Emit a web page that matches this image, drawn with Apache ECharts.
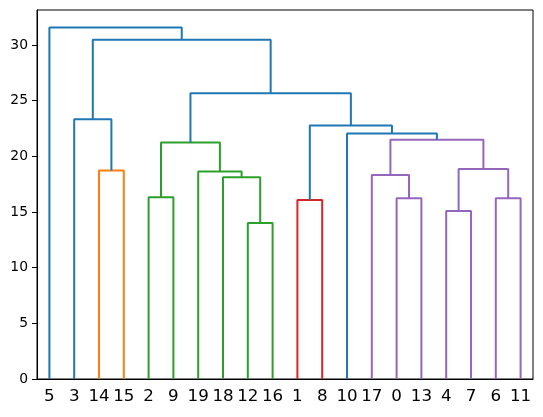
<!DOCTYPE html>
<html>
<head>
<meta charset="utf-8">
<script src="https://cdn.jsdelivr.net/npm/echarts@6/dist/echarts.min.js"></script>
<style>
  html, body { margin: 0; padding: 0; background: #fff; }
  #chart { width: 543px; height: 417px; }
</style>
</head>
<body>
<div id="chart"></div>
<script>
// leaf order along the bottom
const leaves = [5, 3, 14, 15, 2, 9, 19, 18, 12, 16, 1, 8, 10, 17, 0, 13, 4, 7, 6, 11];

// merges in linkage order; a child is a leaf id (number) or an earlier merge 'm<k>'
const mergeLeft = [12, 4, 1, 0, 6, 2, 18, 17, 19, 14, "m1", "m5", "m7", 10, "m2", 3, "m11", "m15", 5];
const mergeRight = [16, 7, 8, 13, 11, 9, "m0", "m3", "m6", 15, "m4", "m8", "m10", "m12", "m13", "m9", "m14", "m16", "m17"];
const mergeHeight = [14.02, 15.1, 16.08, 16.24, 16.24, 16.32, 18.12, 18.32, 18.65, 18.72, 18.86, 21.25, 21.5, 22.06, 22.77, 23.34, 25.67, 30.47, 31.57];
const mergeGroup = ["C2", "C4", "C3", "C4", "C4", "C2", "C2", "C4", "C2", "C1", "C4", "C2", "C4", "C0", "C0", "C0", "C0", "C0", "C0"];

const yTicks = [0, 5, 10, 15, 20, 25, 30];

const palette = { C0: "#1f77b4", C1: "#ff7f0e", C2: "#2ca02c", C3: "#d62728", C4: "#9467bd" };

let chart = echarts.init(document.getElementById("chart"));

// x position (0..200 units, leaf i at 5 + 10 i) and height of every node
const nodeX = {};
const nodeY = {};
leaves.forEach((id, i) => {
  nodeX[id] = 5 + 10 * i;
  nodeY[id] = 0;
});

const series = mergeHeight.map((h, k) => {
  const a = mergeLeft[k];
  const b = mergeRight[k];
  const key = "m" + k;
  nodeX[key] = (nodeX[a] + nodeX[b]) / 2;
  nodeY[key] = h;
  return {
    type: "line",
    xAxisIndex: 1,
    data: [
      [nodeX[a], nodeY[a]],
      [nodeX[a], h],
      [nodeX[b], h],
      [nodeX[b], nodeY[b]],
    ],
    symbol: "none",
    silent: true,
    lineStyle: { color: palette[mergeGroup[k]], width: 2 },
  };
});

const maxY = Math.max(...mergeHeight) * 1.05;

let option = {
  animation: false,
  textStyle: { fontFamily: "DejaVu Sans" },
  grid: {
    left: 37,
    right: 10,
    top: 10,
    bottom: 38,
    show: true,
    borderColor: "#000",
    borderWidth: 1,
  },
  xAxis: [
    {
      type: "category",
      data: leaves.map(String),
      boundaryGap: true,
      axisLine: { lineStyle: { color: "#000", width: 1 } },
      axisTick: { show: false },
      axisLabel: {
        color: "#000",
        fontSize: 16.7,
        margin: 9,
        interval: 0,
        fontFamily: "DejaVu Sans",
      },
      splitLine: { show: false },
    },
    {
      type: "value",
      min: 0,
      max: leaves.length * 10,
      show: false,
    },
  ],
  yAxis: {
    type: "value",
    min: 0,
    max: maxY,
    interval: 5,
    axisLine: { show: true, lineStyle: { color: "#000", width: 1 } },
    axisTick: { show: true, length: 5, lineStyle: { color: "#000" }, customValues: yTicks },
    axisLabel: {
      color: "#000",
      fontSize: 13.9,
      margin: 9,
      fontFamily: "DejaVu Sans",
      customValues: yTicks,
    },
    splitLine: { show: false },
  },
  series,
};
chart.setOption(option);
</script>
</body>
</html>
